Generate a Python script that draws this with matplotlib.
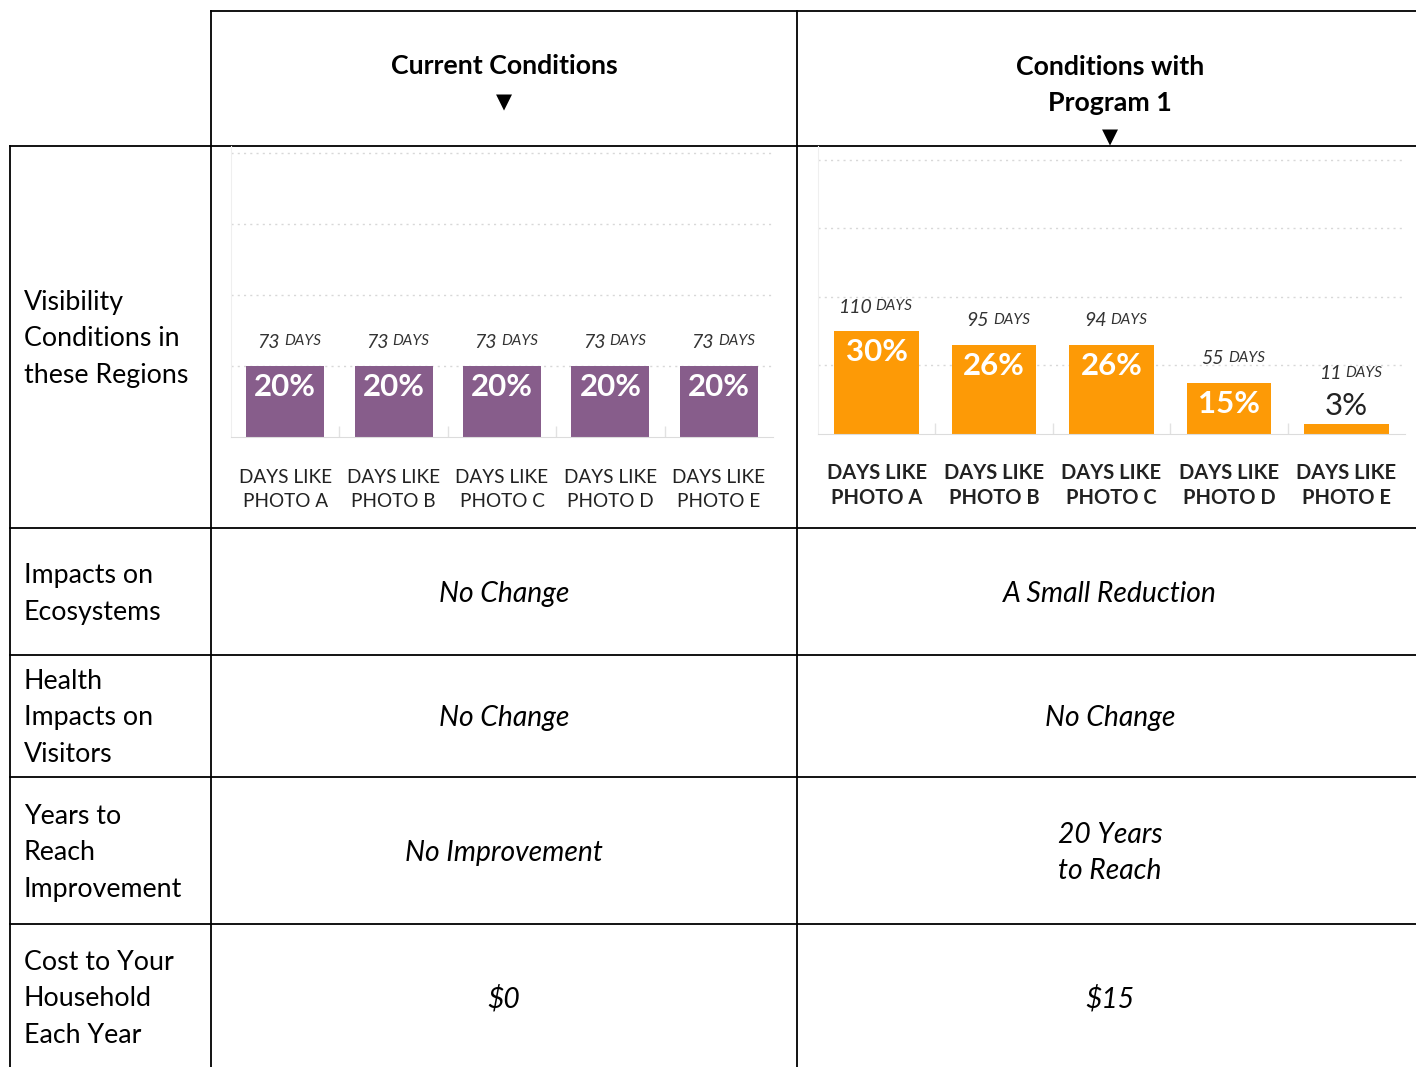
import matplotlib
matplotlib.use('Agg')
import matplotlib.pyplot as plt

# dados do grafico
categorias = ['DAYS LIKE\nPHOTO A', 'DAYS LIKE\nPHOTO B', 'DAYS LIKE\nPHOTO C',
              'DAYS LIKE\nPHOTO D', 'DAYS LIKE\nPHOTO E']
atual_pct = [20, 20, 20, 20, 20]
atual_dias = [73, 73, 73, 73, 73]
programa_pct = [30, 26, 26, 15, 3]
programa_dias = [110, 95, 94, 55, 11]

cabecalhos = ['Current Conditions', 'Conditions with\nProgram 1']
linhas = ['Visibility\nConditions in\nthese Regions', 'Impacts on\nEcosystems',
          'Health\nImpacts on\nVisitors', 'Years to\nReach\nImprovement',
          'Cost to Your\nHousehold\nEach Year']
col_atual = ['No Change', 'No Change', 'No Improvement', '$0']
col_programa = ['A Small Reduction', 'No Change', '20 Years\nto Reach', '$15']

W, H = 1416, 1067
fig = plt.figure(figsize=(W / 100, H / 100), dpi=100)
fig.patch.set_facecolor('white')

# eixo de fundo em pixels para a tabela
bg = fig.add_axes([0, 0, 1, 1])
bg.set_xlim(0, W)
bg.set_ylim(H, 0)
bg.axis('off')

lw = 1.3
# linhas horizontais
bg.plot([211, W], [11, 11], color='black', lw=lw)
for y in [146, 528, 655, 777, 924]:
    bg.plot([10, W], [y, y], color='black', lw=lw)
# linhas verticais
bg.plot([10, 10], [146, H], color='black', lw=lw)
bg.plot([211, 211], [11, H], color='black', lw=lw)
bg.plot([797, 797], [11, H], color='black', lw=lw)

fonte = 'Lato'
# cabecalhos
bg.text(504, 66, cabecalhos[0], ha='center', va='center', fontsize=19.3,
        fontweight='bold', family=fonte)
bg.text(504, 102, '\u25bc', ha='center', va='center', fontsize=15, family='DejaVu Sans')
bg.text(1110, 85, cabecalhos[1], ha='center', va='center', fontsize=19.3,
        fontweight='bold', family=fonte, linespacing=1.56)
bg.text(1110, 137, '\u25bc', ha='center', va='center', fontsize=15, family='DejaVu Sans')

# rotulos das linhas
centros_y = [339, 594, 718, 853, 999]
for texto, yc in zip(linhas, centros_y):
    bg.text(24, yc, texto, ha='left', va='center', fontsize=19.3, family=fonte,
            linespacing=1.58)

# celulas de texto
for texto, yc in zip(col_atual, centros_y[1:]):
    bg.text(504, yc, texto, ha='center', va='center', fontsize=20.3, family=fonte,
            style='italic', linespacing=1.5)
for texto, yc in zip(col_programa, centros_y[1:]):
    bg.text(1110, yc, texto, ha='center', va='center', fontsize=20.3, family=fonte,
            style='italic', linespacing=1.5)


def grafico(x0, x1, ytop, ybase, ymax, pct, dias, cor, peso_rotulo, tam_rotulo, pad, esp):
    ax = fig.add_axes([x0 / W, 1 - ybase / H, (x1 - x0) / W, (ybase - ytop) / H])
    ax.set_facecolor('none')
    x = list(range(len(pct)))
    ax.bar(x, pct, width=0.72, color=cor, zorder=2)
    ax.set_xlim(-0.5, 4.5)
    ax.set_ylim(0, ymax)
    ax.set_yticks([20, 40, 60, 80])
    ax.yaxis.grid(True, linestyle=(0, (1.5, 3)), color='#d8d8d8', lw=1)
    ax.tick_params(axis='y', length=0, labelleft=False)
    ax.set_xticks(x)
    ax.set_xticklabels(categorias, fontsize=tam_rotulo, family=fonte, color='#222222',
                       fontweight=peso_rotulo, linespacing=esp)
    ax.tick_params(axis='x', length=0, pad=pad)
    ax.set_xticks([0.5, 1.5, 2.5, 3.5], minor=True)
    ax.tick_params(axis='x', which='minor', direction='in', length=8,
                   color='#e2e2e2', width=1)
    for s in ['top', 'right']:
        ax.spines[s].set_visible(False)
    ax.spines['left'].set_color('#efefef')
    ax.spines['bottom'].set_color('#dcdcdc')
    for i, (p, d) in enumerate(zip(pct, dias)):
        if p >= 10:
            ax.annotate(f'{p}%', (i, p), xytext=(0, -21), textcoords='offset pixels',
                        ha='center', va='center', color='white', fontsize=22.5,
                        fontweight='bold', family=fonte)
            dy = 24
        else:
            ax.annotate(f'{p}%', (i, p), xytext=(0, 18), textcoords='offset pixels',
                        ha='center', va='center', color='#222222', fontsize=22.5,
                        family=fonte)
            dy = 50
        ax.annotate(f'{d}', (i, p), xytext=(-5, dy), textcoords='offset pixels',
                    ha='right', va='center', color='#333333', fontsize=14,
                    style='italic', family=fonte)
        ax.annotate('DAYS', (i, p), xytext=(-1, dy + 1), textcoords='offset pixels',
                    ha='left', va='center', color='#333333', fontsize=11,
                    style='italic', family=fonte)
    return ax


grafico(231, 773, 146, 437, 82, atual_pct, atual_dias, '#875d8b', 'normal', 13.7, 23, 1.5)
grafico(818, 1405, 146, 434, 84, programa_pct, programa_dias, '#fd9a06', 'bold', 14.5, 21, 1.32)

fig.savefig('out.png', dpi=100, facecolor='white')
